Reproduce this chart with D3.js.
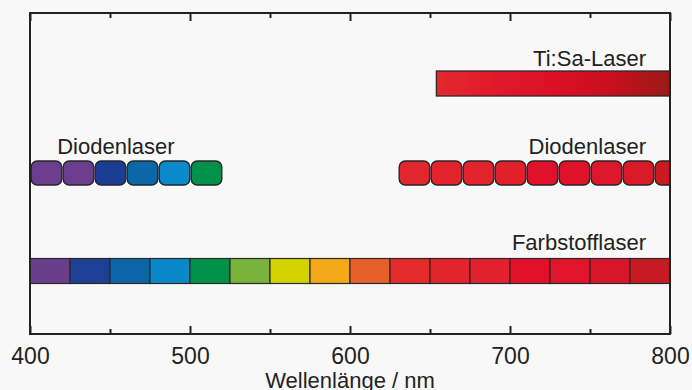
<!DOCTYPE html>
<html>
<head>
<meta charset="utf-8">
<script src="https://cdn.jsdelivr.net/npm/d3@7"></script>
<style>
  html, body { margin: 0; padding: 0; background: #f8f8f8; }
  text { font-family: "Liberation Sans", Arial, Helvetica, sans-serif; fill: #222; }
</style>
</head>
<body>
<div id="chart"></div>
<script>
// Wavelength ticks (nm)
const majorTicks = [400, 500, 600, 700, 800];
const minorTicks = [450, 550, 650, 750];

// Rows of the chart, top to bottom
const rows = ['Ti:Sa-Laser', 'Diodenlaser', 'Farbstofflaser'];

// Ti:Sa laser: continuous tunable range
const tisaRange = [654, 800];
const tisaStops = ['#e3282e', '#e01a2b', '#dc0f26', '#c80f1e', '#9a1a1a'];

// Diode lasers: discrete 20 nm boxes
const diodeLeftStarts = [400, 420, 440, 460, 480, 500];
const diodeLeftColors = ['#6b3d8c', '#6b3d8c', '#1b3e94', '#0b67a8', '#0a89cb', '#00904a'];
const diodeRightStarts = [630, 650, 670, 690, 710, 730, 750, 770, 790];
const diodeRightColors = ['#e1262d', '#e2232c', '#e2222c', '#e2202b', '#e0102a', '#e0122a', '#de162b', '#d81a28', '#c81a20'];
const diodeWidth = 20;

// Dye laser: 25 nm segments across the whole range
const dyeStarts = [400, 425, 450, 475, 500, 525, 550, 575, 600, 625, 650, 675, 700, 725, 750, 775];
const dyeColors = ['#6a3d8a', '#1d3f94', '#0a66a8', '#0a88c8', '#009048', '#78b43c', '#d4d200', '#f2a818',
                   '#e6602a', '#e42a2a', '#e3242e', '#e2202e', '#e0102a', '#e0142a', '#d8142a', '#c81a22'];
const dyeWidth = 25;

const width = 692, height = 390;
const margin = { left: 30, right: 22, top: 13, bottom: 56 };

const svg = d3.select('#chart').append('svg')
  .attr('width', width)
  .attr('height', height);

const x = d3.scaleLinear().domain([400, 800]).range([margin.left, width - margin.right]);
const yTop = margin.top, yBottom = height - margin.bottom;
const y = d3.scaleOrdinal().domain(rows).range([83.5, 173, 271]);

// clip to plot area
svg.append('defs').append('clipPath').attr('id', 'clip')
  .append('rect')
  .attr('x', x(400)).attr('y', yTop)
  .attr('width', x(800) - x(400)).attr('height', yBottom - yTop);

const grad = svg.select('defs').append('linearGradient')
  .attr('id', 'tisa-grad')
  .attr('x1', '0%').attr('x2', '100%');
grad.selectAll('stop')
  .data(tisaStops)
  .enter().append('stop')
  .attr('offset', (d, i) => (i / (tisaStops.length - 1) * 100) + '%')
  .attr('stop-color', d => d);

const plot = svg.append('g').attr('clip-path', 'url(#clip)');

// Ti:Sa bar
plot.append('rect')
  .attr('x', x(tisaRange[0]))
  .attr('y', y('Ti:Sa-Laser') - 12.5)
  .attr('width', x(tisaRange[1]) - x(tisaRange[0]))
  .attr('height', 25)
  .attr('fill', 'url(#tisa-grad)')
  .attr('stroke', '#2a2a2a')
  .attr('stroke-width', 1.3);

// Diode boxes
const diodes = diodeLeftStarts.map((s, i) => ({ start: s, color: diodeLeftColors[i] }))
  .concat(diodeRightStarts.map((s, i) => ({ start: s, color: diodeRightColors[i] })));

plot.selectAll('.diode')
  .data(diodes)
  .enter().append('rect')
  .attr('class', 'diode')
  .attr('x', d => x(d.start) + 1.2)
  .attr('y', y('Diodenlaser') - 12)
  .attr('width', d => x(d.start + diodeWidth) - x(d.start) - 1.4)
  .attr('height', 24)
  .attr('rx', 6).attr('ry', 6)
  .attr('fill', d => d.color)
  .attr('stroke', '#262626')
  .attr('stroke-width', 1.4);

// Dye segments
plot.selectAll('.dye')
  .data(dyeStarts)
  .enter().append('rect')
  .attr('class', 'dye')
  .attr('x', d => x(d))
  .attr('y', y('Farbstofflaser') - 12.5)
  .attr('width', d => x(d + dyeWidth) - x(d))
  .attr('height', 25)
  .attr('fill', (d, i) => dyeColors[i])
  .attr('stroke', '#2a2a2a')
  .attr('stroke-width', 1.2);

// Row labels
svg.append('text')
  .attr('x', x(785)).attr('y', y('Ti:Sa-Laser') - 18)
  .attr('text-anchor', 'end')
  .attr('font-size', 22)
  .text('Ti:Sa-Laser');

svg.append('text')
  .attr('x', x(417)).attr('y', y('Diodenlaser') - 19)
  .attr('font-size', 22)
  .text('Diodenlaser');

svg.append('text')
  .attr('x', x(785)).attr('y', y('Diodenlaser') - 19)
  .attr('text-anchor', 'end')
  .attr('font-size', 22)
  .text('Diodenlaser');

svg.append('text')
  .attr('x', x(785)).attr('y', y('Farbstofflaser') - 21)
  .attr('text-anchor', 'end')
  .attr('font-size', 22)
  .text('Farbstofflaser');

// Frame
svg.append('rect')
  .attr('x', x(400)).attr('y', yTop)
  .attr('width', x(800) - x(400)).attr('height', yBottom - yTop)
  .attr('fill', 'none')
  .attr('stroke', '#222')
  .attr('stroke-width', 2);

// Axes: inward ticks at bottom and top
const bottomAxis = svg.append('g')
  .attr('transform', `translate(0,${yBottom})`)
  .call(d3.axisBottom(x).tickValues(majorTicks).tickSize(-8).tickPadding(14).tickFormat(d3.format('d')));
bottomAxis.select('.domain').remove();
bottomAxis.selectAll('line').attr('stroke', '#222').attr('stroke-width', 2);
bottomAxis.selectAll('text')
  .attr('font-size', 23)
  .attr('fill', '#222')
  .style('font-family', '"Liberation Sans", Arial, sans-serif');

const bottomMinor = svg.append('g')
  .attr('transform', `translate(0,${yBottom})`)
  .call(d3.axisBottom(x).tickValues(minorTicks).tickSize(-5).tickFormat(''));
bottomMinor.select('.domain').remove();
bottomMinor.selectAll('line').attr('stroke', '#222').attr('stroke-width', 2);

const topAxis = svg.append('g')
  .attr('transform', `translate(0,${yTop})`)
  .call(d3.axisTop(x).tickValues(majorTicks).tickSize(-8).tickFormat(''));
topAxis.select('.domain').remove();
topAxis.selectAll('line').attr('stroke', '#222').attr('stroke-width', 2);

const topMinor = svg.append('g')
  .attr('transform', `translate(0,${yTop})`)
  .call(d3.axisTop(x).tickValues(minorTicks).tickSize(-5).tickFormat(''));
topMinor.select('.domain').remove();
topMinor.selectAll('line').attr('stroke', '#222').attr('stroke-width', 2);

// Axis title
svg.append('text')
  .attr('x', (x(400) + x(800)) / 2)
  .attr('y', height - 2)
  .attr('text-anchor', 'middle')
  .attr('font-size', 22)
  .text('Wellenlänge / nm');
</script>
</body>
</html>
